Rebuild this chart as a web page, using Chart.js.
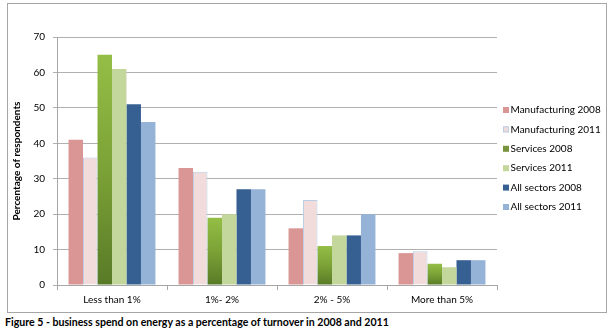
<!DOCTYPE html>
<html><head><meta charset="utf-8">
<script src="https://cdn.jsdelivr.net/npm/chart.js@4/dist/chart.umd.min.js"></script>
<style>
html,body{margin:0;padding:0;background:#fff;width:613px;height:334px;overflow:hidden}
#frame{position:absolute;left:7px;top:3px;width:598px;height:308px;border:1px solid #A6A6A6}
#wrap{position:absolute;left:8px;top:4px;width:598px;height:308px}
#caption{position:absolute;left:5px;top:315px;font-family:Lato, sans-serif;font-weight:bold;font-size:12px;line-height:14px;color:#000;white-space:nowrap}
</style></head><body>
<div id="frame"></div>
<div id="wrap"><canvas id="c" width="598" height="308"></canvas></div>
<div id="caption">Figure 5 - business spend on energy as a percentage of turnover in 2008 and 2011</div>
<script>
const categories = ['Less than 1%', '1%- 2%', '2% - 5%', 'More than 5%'];
const seriesNames = ['Manufacturing 2008', 'Manufacturing 2011', 'Services 2008', 'Services 2011', 'All sectors 2008', 'All sectors 2011'];
const manufacturing2008 = [41, 33, 16, 9];
const manufacturing2011 = [36, 32, 24, 9.5];
const services2008 = [65, 19, 11, 6];
const services2011 = [61, 20, 14, 5];
const allSectors2008 = [51, 27, 14, 7];
const allSectors2011 = [46, 27, 20, 7];
const yTicks = [0, 10, 20, 30, 40, 50, 60, 70];

const FONT = 'Lato, sans-serif';
const legendColors = ['#D99694', '#F2DCDB', '#77933C', '#C3D69B', '#376092', '#95B3D7'];
const legendBorders = [null, '#B9CDE5', null, null, null, null];

// size the caption so it spans the same width as in the figure
(function () {
  const cap = document.getElementById('caption');
  const m = document.createElement('canvas').getContext('2d');
  m.font = 'bold 12px ' + FONT;
  const w = m.measureText(cap.textContent).width;
  cap.style.fontSize = (12 * 385 / w).toFixed(2) + 'px';
})();

function greenGradient(ctx) {
  const chart = ctx.chart;
  const y = chart.scales && chart.scales.y;
  if (!y || ctx.raw == null || !chart.chartArea) return '#77933C';
  const top = y.getPixelForValue(ctx.raw);
  const bottom = y.getPixelForValue(0);
  const g = chart.ctx.createLinearGradient(0, top, 0, bottom);
  g.addColorStop(0, '#94BE46');
  g.addColorStop(0.5, '#7BA236');
  g.addColorStop(1, '#587A27');
  return g;
}

const seriesData = [manufacturing2008, manufacturing2011, services2008, services2011, allSectors2008, allSectors2011];
const datasets = seriesData.map((d, i) => ({
  label: seriesNames[i],
  data: d,
  backgroundColor: i === 2 ? greenGradient : legendColors[i],
  borderColor: legendBorders[i] || 'rgba(0,0,0,0)',
  borderWidth: legendBorders[i] ? 1 : 0,
  categoryPercentage: 0.79,
  barPercentage: 1.0
}));

const sideLegend = {
  id: 'sideLegend',
  afterDraw(chart) {
    const c = chart.ctx;
    const area = chart.chartArea;
    const x0 = area.right + 6;
    const step = 19.4;
    const y0 = 106;
    c.save();
    c.font = '10px ' + FONT;
    c.textBaseline = 'middle';
    c.textAlign = 'left';
    chart.data.datasets.forEach((ds, i) => {
      const y = y0 + i * step;
      c.fillStyle = legendColors[i];
      c.fillRect(x0, y - 3, 6, 6);
      if (legendBorders[i]) {
        c.strokeStyle = legendBorders[i];
        c.lineWidth = 1;
        c.strokeRect(x0 + 0.5, y - 2.5, 5, 5);
      }
      c.fillStyle = '#000';
      c.fillText(ds.label, x0 + 7.5, y);
    });
    c.restore();
  }
};

new Chart(document.getElementById('c'), {
  type: 'bar',
  data: { labels: categories, datasets },
  plugins: [sideLegend],
  options: {
    responsive: false,
    animation: false,
    devicePixelRatio: 1,
    layout: { padding: { top: 33, left: 0, right: 109, bottom: 0 } },
    plugins: {
      tooltip: { enabled: false },
      legend: { display: false }
    },
    scales: {
      x: {
        grid: { offset: true, drawOnChartArea: false, drawTicks: true, tickLength: 5, color: '#A6A6A6' },
        border: { color: '#A6A6A6', width: 1 },
        ticks: { color: '#000', font: { family: FONT, size: 10 }, padding: 4, maxRotation: 0 },
        afterFit(s) { s.height = 27; }
      },
      y: {
        min: 0, max: 70,
        afterBuildTicks(s) { s.ticks = yTicks.map(v => ({ value: v })); },
        grid: { color: '#B0B0B0', lineWidth: 1, tickLength: 4 },
        border: { color: '#A6A6A6', width: 1 },
        ticks: { color: '#000', font: { family: FONT, size: 10 }, padding: 8 },
        title: { display: true, text: 'Percentage of respondents', color: '#000', font: { family: FONT, size: 10, weight: 'bold' }, padding: { top: 3, bottom: 0 } },
        afterFit(s) { s.width = 49; }
      }
    }
  }
});
</script>
</body></html>
